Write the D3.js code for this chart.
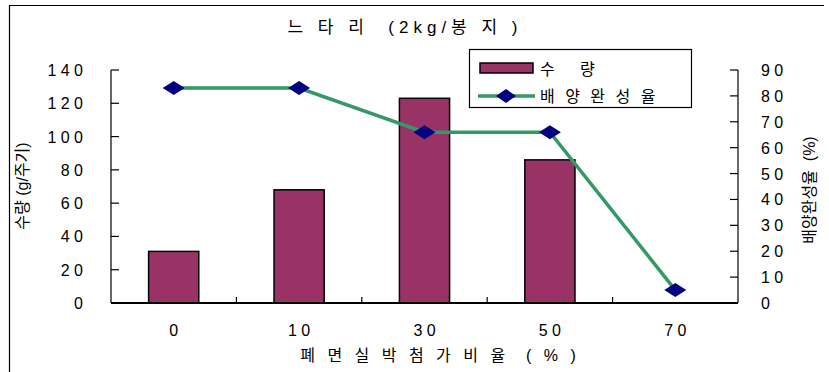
<!DOCTYPE html>
<html>
<head>
<meta charset="utf-8">
<script src="https://cdn.jsdelivr.net/npm/d3@7"></script>
<style>
  html, body { margin: 0; padding: 0; background: #fff; }
  svg text { font-family: "Liberation Sans", Arial, "Noto Sans CJK KR", sans-serif; fill: #000; white-space: pre; }
</style>
</head>
<body>
<svg id="chart" width="829" height="372"></svg>
<script>
// Data
const categories = ["0", "10", "30", "50", "70"];
const yieldValues = [31, 68, 123, 86, 0];          // 수량 (g/주기)
const completionRate = [83, 83, 66, 66, 5];       // 배양완성율 (%)
const leftTicks = [0, 20, 40, 60, 80, 100, 120, 140];
const rightTicks = [0, 10, 20, 30, 40, 50, 60, 70, 80, 90];

const spaced = s => s.split("").join(" ");

const svg = d3.select("#chart");
const plot = { left: 111, right: 738, top: 70, bottom: 303 };

const x = d3.scaleBand().domain(categories)
  .range([plot.left, plot.right]).paddingInner(0.6).paddingOuter(0.3);
const step = x.step();
const yL = d3.scaleLinear().domain([0, 140]).range([plot.bottom, plot.top]);
const yR = d3.scaleLinear().domain([0, 90]).range([plot.bottom, plot.top]);

// Outer frame (top and left edges)
svg.append("path")
  .attr("d", "M9.5,372 L9.5,5.5 L824,5.5")
  .attr("fill", "none").attr("stroke", "#000").attr("stroke-width", 1.2);

// Title
svg.append("text")
  .attr("x", 405).attr("y", 33)
  .attr("text-anchor", "middle")
  .attr("font-size", 17)
  .style("letter-spacing", "5px")
  .text("느 타 리  (2kg/봉 지 )");

// Bars
svg.append("g").selectAll("rect")
  .data(categories.map((c, i) => ({ c, v: yieldValues[i] })).filter(d => d.v > 0))
  .join("rect")
  .attr("x", d => x(d.c))
  .attr("width", x.bandwidth())
  .attr("y", d => yL(d.v))
  .attr("height", d => yL(0) - yL(d.v))
  .attr("fill", "#993366")
  .attr("stroke", "#000")
  .attr("stroke-width", 1.5);

// Axes lines
const axisG = svg.append("g").attr("stroke", "#000").attr("stroke-width", 1.2).attr("fill", "none");
axisG.append("line").attr("x1", plot.left).attr("x2", plot.left).attr("y1", plot.top).attr("y2", plot.bottom);
axisG.append("line").attr("x1", plot.right).attr("x2", plot.right).attr("y1", plot.top).attr("y2", plot.bottom);
axisG.append("line").attr("x1", plot.left).attr("x2", plot.right).attr("y1", plot.bottom).attr("y2", plot.bottom)
  .attr("stroke-width", 1.8);

// Left ticks + labels
leftTicks.forEach(t => {
  axisG.append("line").attr("x1", plot.left).attr("x2", plot.left + 8)
    .attr("y1", yL(t)).attr("y2", yL(t));
  svg.append("text")
    .attr("x", 83).attr("y", yL(t) + 6)
    .attr("text-anchor", "end").attr("font-size", 16)
    .text(spaced(String(t)));
});

// Right ticks + labels
rightTicks.forEach(t => {
  axisG.append("line").attr("x1", plot.right - 8).attr("x2", plot.right)
    .attr("y1", yR(t)).attr("y2", yR(t));
  svg.append("text")
    .attr("x", 761).attr("y", yR(t) + 6)
    .attr("text-anchor", "start").attr("font-size", 16)
    .text(spaced(String(t)));
});

// Category separators on the x axis
categories.slice(1).forEach(c => {
  const xs = x(c) - step * 0.3;
  axisG.append("line").attr("x1", xs).attr("x2", xs)
    .attr("y1", plot.bottom).attr("y2", plot.bottom - 6);
});

// Category labels
categories.forEach(c => {
  svg.append("text")
    .attr("x", x(c) + x.bandwidth() / 2).attr("y", 336)
    .attr("text-anchor", "middle").attr("font-size", 16)
    .text(spaced(c));
});

// Completion-rate line
const cx = c => x(c) + x.bandwidth() / 2;
const pts = categories.map((c, i) => [cx(c), yR(completionRate[i])]);
svg.append("path")
  .attr("d", d3.line()(pts))
  .attr("fill", "none").attr("stroke", "#339966").attr("stroke-width", 3.5);

const diamond = (w, h) => `M0,${-h / 2} L${w / 2},0 L0,${h / 2} L${-w / 2},0 Z`;
svg.append("g").selectAll("path")
  .data(pts).join("path")
  .attr("transform", d => `translate(${d[0]},${d[1]})`)
  .attr("d", diamond(22, 14))
  .attr("fill", "#000080");

// Axis titles
svg.append("text")
  .attr("transform", "translate(28,186) rotate(-90)")
  .attr("text-anchor", "middle").attr("font-size", 16)
  .text("수량 (g/주기)");

svg.append("text")
  .attr("transform", "translate(815,190) rotate(-90)")
  .attr("text-anchor", "middle").attr("font-size", 16)
  .text("배양완성율  (%)");

svg.append("text")
  .attr("x", 440).attr("y", 361)
  .attr("text-anchor", "middle").attr("font-size", 16)
  .style("letter-spacing", "4px")
  .text("폐 면 실 박 첨 가 비 율  ( % )");

// Legend
const lg = svg.append("g");
lg.append("rect").attr("x", 469.5).attr("y", 49.5).attr("width", 222).attr("height", 58)
  .attr("fill", "#fff").attr("stroke", "#000").attr("stroke-width", 1.2);
lg.append("rect").attr("x", 480).attr("y", 63).attr("width", 53).attr("height", 10)
  .attr("fill", "#993366").attr("stroke", "#000").attr("stroke-width", 1.5);
lg.append("text").attr("x", 540).attr("y", 75).attr("font-size", 16)
  .style("letter-spacing", "3px").text("수   량");
lg.append("line").attr("x1", 478).attr("x2", 535).attr("y1", 96).attr("y2", 96)
  .attr("stroke", "#339966").attr("stroke-width", 3.5);
lg.append("path").attr("transform", "translate(506,96)").attr("d", diamond(20, 14))
  .attr("fill", "#000080");
lg.append("text").attr("x", 540).attr("y", 102).attr("font-size", 16)
  .style("letter-spacing", "3px").text("배 양 완 성 율");
</script>
</body>
</html>
